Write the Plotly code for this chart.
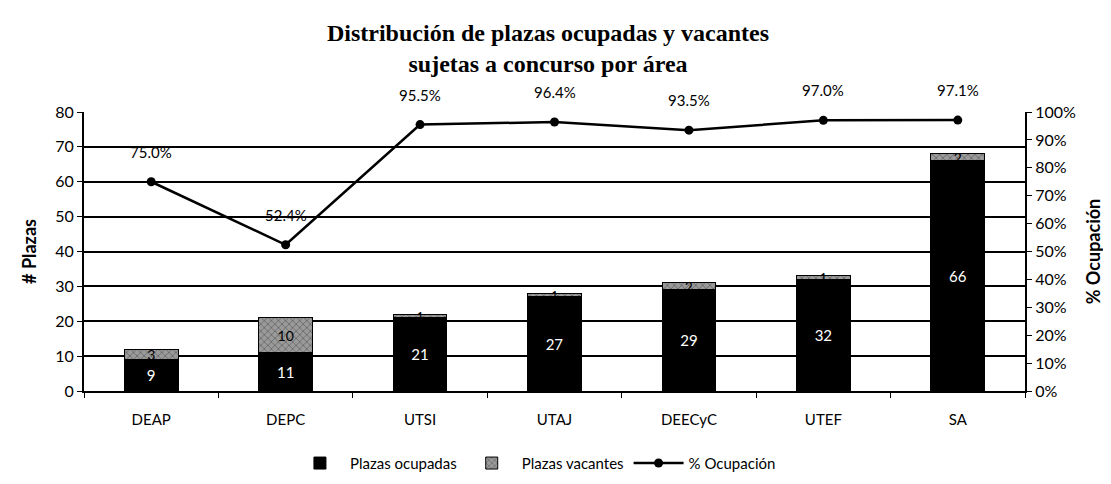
import plotly.graph_objects as go

categories = ["DEAP", "DEPC", "UTSI", "UTAJ", "DEECyC", "UTEF", "SA"]
ocupadas = [9, 11, 21, 27, 29, 32, 66]
vacantes = [3, 10, 1, 1, 2, 1, 2]
ocupacion = [75.0, 52.4, 95.5, 96.4, 93.5, 97.0, 97.1]
y_ticks = list(range(0, 81, 10))
pct_ticks = list(range(0, 101, 10))

FONT = "Lato, Liberation Sans, sans-serif"
TFONT = "Liberation Serif, DejaVu Serif, serif"

fig = go.Figure()
fig.add_trace(go.Bar(
    x=categories, y=ocupadas, name="Plazas ocupadas",
    marker=dict(color="#000000", line=dict(color="#000000", width=1)),
    width=0.4, text=[str(v) for v in ocupadas], textposition="inside",
    insidetextanchor="middle", textangle=0,
    textfont=dict(color="white", size=15, family=FONT), yaxis="y"))
fig.add_trace(go.Bar(
    x=categories, y=vacantes, name="Plazas vacantes",
    marker=dict(color="#9a9a9a", line=dict(color="#000000", width=1),
                pattern=dict(shape="x", fgcolor="#333333", size=5, solidity=0.3)),
    width=0.4, text=[str(v) for v in vacantes], textposition="inside",
    insidetextanchor="middle", constraintext="none", textangle=0,
    textfont=dict(color="black", size=14, family=FONT), yaxis="y"))
fig.add_trace(go.Scatter(
    x=categories, y=ocupacion, name="% Ocupación", mode="lines+markers",
    line=dict(color="#000000", width=2.5),
    marker=dict(color="#000000", size=9), yaxis="y2", cliponaxis=False))

annotations = [
    dict(x=c, y=v, xref="x", yref="y2", text=f"{v:.1f}%", showarrow=False,
         yshift=30, font=dict(size=15, family=FONT, color="black"))
    for c, v in zip(categories, ocupacion)
]

fig.update_layout(
    width=1111, height=484,
    barmode="stack",
    paper_bgcolor="white", plot_bgcolor="white",
    margin=dict(l=76, r=94, t=104, b=79),
    font=dict(family=FONT, color="black", size=15),
    title=dict(text="<b>Distribución de plazas ocupadas y vacantes<br>sujetas a concurso por área</b>",
               x=540 / 1111, xanchor="center", yref="container", y=1 - 33 / 484,
               yanchor="middle",
               font=dict(size=24, family=TFONT, color="black")),
    annotations=annotations,
    xaxis=dict(range=[-0.5, 6.5], showline=True, linecolor="black", linewidth=2,
               ticks="outside", tickson="boundaries", ticklen=5, tickcolor="black",
               ticklabelstandoff=14,
               tickfont=dict(size=15, family=FONT), showgrid=False, automargin=False),
    yaxis=dict(range=[0, 80], tickvals=y_ticks, showline=True, linecolor="black",
               linewidth=2, ticks="outside", ticklen=5, tickcolor="black",
               showgrid=True, gridcolor="black", gridwidth=2, automargin=False,
               title=dict(text="<b># Plazas</b>", font=dict(size=18), standoff=14),
               tickfont=dict(size=16), zeroline=False),
    yaxis2=dict(range=[0, 100], tickvals=pct_ticks,
                ticktext=[f"{v}%" for v in pct_ticks], overlaying="y",
                side="right", showline=True, linecolor="black", linewidth=2,
                ticks="outside", ticklen=5, tickcolor="black", showgrid=False,
                automargin=False,
                title=dict(text="<b>% Ocupación</b>", font=dict(size=18), standoff=12),
                tickfont=dict(size=16), zeroline=False),
    legend=dict(orientation="h", x=533 / 1111, xanchor="center", y=-0.2, yanchor="top",
                font=dict(size=15), traceorder="normal", itemwidth=50),
    showlegend=True,
)

fig.write_html("out.html")
